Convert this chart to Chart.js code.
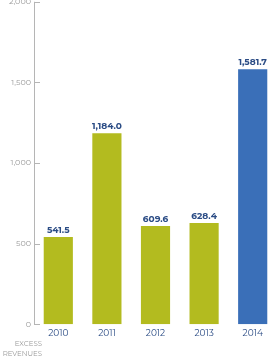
<!DOCTYPE html>
<html><head><meta charset="utf-8">
<script src="https://cdn.jsdelivr.net/npm/chart.js@4/dist/chart.umd.min.js"></script>
<style>
html,body{margin:0;padding:0;background:#fff;overflow:hidden;width:271px;height:360px;}
#wrap{position:absolute;left:0;top:-6px;width:277px;height:380px;}
</style></head><body>
<div id="wrap"><canvas id="c" width="277" height="380"></canvas></div>
<script>
const categories = ["2010","2011","2012","2013","2014"];
const values = [541.5, 1184.0, 609.6, 628.4, 1581.7];
const valueLabels = ["541.5","1,184.0","609.6","628.4","1,581.7"];
const yTicks = [0, 500, 1000, 1500, 2000];
const axisTitle = ["EXCESS","REVENUES","(MILLIONS)"];
const barColors = ["#b3bb1f","#b3bb1f","#b3bb1f","#b3bb1f","#3a6fb8"];

const FONT = "Montserrat, 'Open Sans', Lato, sans-serif";

const extras = {
  id: 'extras',
  afterDatasetsDraw(chart) {
    const ctx = chart.ctx;
    const y = chart.scales.y;
    const area = chart.chartArea;
    ctx.save();
    ctx.strokeStyle = '#b5b5b5';
    ctx.lineWidth = 1;
    ctx.beginPath();
    ctx.moveTo(area.left + 0.5, y.getPixelForValue(2000));
    ctx.lineTo(area.left + 0.5, y.getPixelForValue(0));
    ctx.stroke();
    yTicks.forEach(v => {
      const py = Math.round(y.getPixelForValue(v)) + 0.5;
      ctx.beginPath();
      ctx.moveTo(area.left, py);
      ctx.lineTo(area.left + 6, py);
      ctx.stroke();
    });
    ctx.fillStyle = '#2b4c85';
    ctx.font = "bold 9px " + FONT;
    ctx.textAlign = 'center';
    ctx.textBaseline = 'bottom';
    const meta = chart.getDatasetMeta(0);
    meta.data.forEach((bar, i) => {
      ctx.fillText(valueLabels[i], bar.x, bar.y - 2);
    });
    ctx.fillStyle = '#9a9a9a';
    ctx.font = "7px " + FONT;
    ctx.textAlign = 'right';
    ctx.textBaseline = 'middle';
    axisTitle.forEach((t, i) => {
      ctx.fillText(t, area.left + 8, y.getPixelForValue(0) + 20 + i * 10);
    });
    ctx.restore();
  }
};

new Chart(document.getElementById('c'), {
  type: 'bar',
  data: {
    labels: categories,
    datasets: [{
      data: values,
      backgroundColor: barColors,
      categoryPercentage: 0.6,
      barPercentage: 1.0
    }]
  },
  options: {
    responsive: false,
    animation: false,
    devicePixelRatio: 1,
    layout: { padding: { top: 0, right: 0, bottom: 31, left: 0 } },
    plugins: { legend: { display: false }, tooltip: { enabled: false } },
    scales: {
      x: {
        grid: { display: false, drawTicks: false },
        border: { display: false },
        ticks: { color: '#2b4c85', font: { size: 9, family: FONT }, padding: 4 }
      },
      y: {
        min: 0, max: 2000,
        afterBuildTicks(s) { s.ticks = yTicks.map(v => ({ value: v })); },
        afterFit(s) { s.width = 34; },
        grid: { display: false, drawTicks: false },
        border: { display: false },
        ticks: {
          color: '#9a9a9a', font: { size: 8, family: FONT }, padding: 3,
          callback: v => v.toLocaleString('en-US')
        }
      }
    }
  },
  plugins: [extras]
});
</script>
</body></html>
